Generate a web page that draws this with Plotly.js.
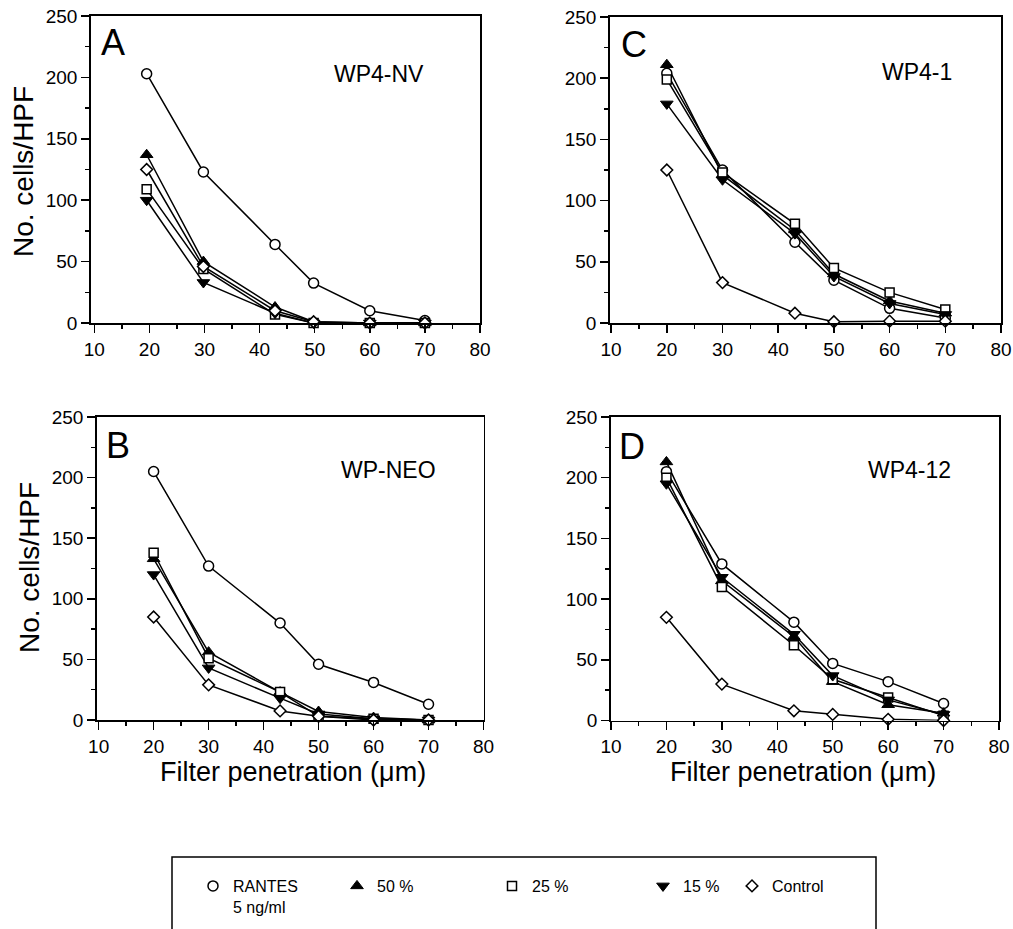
<!DOCTYPE html>
<html>
<head>
<meta charset="utf-8">
<script src="https://cdn.plot.ly/plotly-3.0.1.min.js"></script>
<style>html,body{margin:0;padding:0;background:#fff;}#chart{width:1013px;height:929px;}</style>
</head>
<body>
<div id="chart"></div>
<script>
// ---------- data ----------
const seriesNames = ["RANTES<br>5 ng/ml", "50 %", "25 %", "15 %", "Control"];
const xTicks = [10, 20, 30, 40, 50, 60, 70, 80];
const yTicks = [0, 50, 100, 150, 200, 250];

// Panel A  WP4-NV
const xA = [19.5, 29.8, 42.8, 49.8, 60, 70];
const A_rantes  = [203, 123, 64, 32.5, 10, 2];
const A_p50     = [137, 50, 13, 1, 0, 0];
const A_p25     = [109, 44, 7, 0, 0, 0];
const A_p15     = [100, 33, 8, 0, 0, 0];
const A_control = [125, 46, 10, 1, 0, 0];

// Panel C  WP4-1
const xC = [20, 30, 43, 50, 60, 70];
const C_rantes  = [204, 125, 66, 35, 12, 4];
const C_p50     = [211, 121, 76, 40, 18, 8];
const C_p25     = [199, 123, 81, 45, 25, 11];
const C_p15     = [179, 117, 73, 38, 16, 7];
const C_control = [125, 33, 8, 1, 1.5, 1.5];

// Panel B  WP-NEO
const xB = [20, 30, 43, 50, 60, 70];
const B_rantes  = [205, 127, 80, 46, 31, 13];
const B_p50     = [133, 56, 23, 7, 2, 0];
const B_p25     = [138, 51, 23, 3, 1, 0];
const B_p15     = [120, 43, 18, 5, 1, 0];
const B_control = [85, 29, 7.5, 3, 0, 0];

// Panel D  WP4-12
const xD = [20, 30, 43, 50, 60, 70];
const D_rantes  = [205, 129, 81, 47, 32, 14];
const D_p50     = [213, 115, 69, 32, 13, 6];
const D_p25     = [200, 110, 62, 34, 19, 4];
const D_p15     = [195, 118, 71, 37, 17, 5];
const D_control = [85, 30, 8, 5, 1, 0];

const panelLetters = ["A", "C", "B", "D"];
const panelLabels = ["WP4-NV", "WP4-1", "WP-NEO", "WP4-12"];

// ---------- helpers ----------
const W = 1013, H = 929;
const px = x => x / W;
const py = y => 1 - y / H;
const FONT = "Liberation Sans, Arial, Helvetica, sans-serif";

const markerStyles = [
  {symbol: "circle", size: 10, color: "#fff", line: {color: "#000", width: 1.5}},
  {symbol: "triangle-up", size: 11, color: "#000", line: {color: "#000", width: 1}},
  {symbol: "square", size: 9, color: "#fff", line: {color: "#000", width: 1.5}},
  {symbol: "triangle-down", size: 11, color: "#000", line: {color: "#000", width: 1}},
  {symbol: "diamond", size: 9, color: "#fff", line: {color: "#000", width: 1.5}}
];
const legendIds = ["legend", "legend2", "legend3", "legend4", "legend5"];

const panels = [
  {x: xA, ys: [A_rantes, A_p50, A_p25, A_p15, A_control], xa: "x",  ya: "y",  legend: true},
  {x: xC, ys: [C_rantes, C_p50, C_p25, C_p15, C_control], xa: "x2", ya: "y2", legend: false},
  {x: xB, ys: [B_rantes, B_p50, B_p25, B_p15, B_control], xa: "x3", ya: "y3", legend: false},
  {x: xD, ys: [D_rantes, D_p50, D_p25, D_p15, D_control], xa: "x4", ya: "y4", legend: false}
];

const lineTraces = [], markerTraces = [];
panels.forEach(p => {
  p.ys.forEach((y, i) => {
    lineTraces.push({
      type: "scatter", mode: "lines",
      x: p.x, y: y, xaxis: p.xa, yaxis: p.ya,
      name: seriesNames[i], showlegend: false,
      cliponaxis: false,
      line: {color: "#000", width: 1.5},
      hoverinfo: "skip"
    });
    markerTraces.push({
      type: "scatter", mode: "markers",
      x: p.x, y: y, xaxis: p.xa, yaxis: p.ya,
      name: seriesNames[i],
      showlegend: p.legend,
      legend: legendIds[i],
      cliponaxis: false,
      marker: markerStyles[i]
    });
  });
});
const traces = lineTraces.concat(markerTraces);

function xAxis(domain, range, anchor) {
  return {
    domain: domain, range: range, anchor: anchor,
    tickmode: "array", tickvals: xTicks, ticktext: xTicks.map(String),
    ticks: "outside", ticklen: 8, tickwidth: 1.5, tickcolor: "#000",
    minor: {dtick: 5, tick0: 10, ticks: "outside", ticklen: 4, tickwidth: 1.5, tickcolor: "#000", showgrid: false},
    showline: true, linewidth: 1.8, linecolor: "#000", mirror: true,
    showgrid: false, zeroline: false, automargin: false,
    tickfont: {family: FONT, size: 19, color: "#000"}
  };
}
function yAxis(domain, anchor) {
  return {
    domain: domain, range: [0, 250], anchor: anchor,
    tickmode: "array", tickvals: yTicks, ticktext: yTicks.map(String),
    ticks: "outside", ticklen: 8, tickwidth: 1.5, tickcolor: "#000",
    minor: {dtick: 25, tick0: 0, ticks: "outside", ticklen: 4, tickwidth: 1.5, tickcolor: "#000", showgrid: false},
    showline: true, linewidth: 1.8, linecolor: "#000", mirror: true,
    showgrid: false, zeroline: false, automargin: false,
    tickfont: {family: FONT, size: 19, color: "#000"}
  };
}

const legendMarkerX = [213, 357, 512, 663, 752];
const legends = {};
legendIds.forEach((id, i) => {
  legends[id] = {
    x: px(legendMarkerX[i] - 20), y: py(869), xanchor: "left", yanchor: "top",
    bgcolor: "rgba(0,0,0,0)", borderwidth: 0, valign: "top",
    font: {family: FONT, size: 16, color: "#000"},
    itemclick: false, itemdoubleclick: false
  };
});

const annotations = [];
const letterPos = [[113, 42], [634, 44], [118, 445], [632, 446]];
const labelPos = [[379, 74], [917, 72], [388, 470], [909, 470]];
panelLetters.forEach((t, i) => {
  annotations.push({text: t, xref: "paper", yref: "paper", x: px(letterPos[i][0]), y: py(letterPos[i][1]),
    xanchor: "center", yanchor: "middle", showarrow: false, font: {family: FONT, size: 36, color: "#000"}});
});
panelLabels.forEach((t, i) => {
  annotations.push({text: t, xref: "paper", yref: "paper", x: px(labelPos[i][0]), y: py(labelPos[i][1]),
    xanchor: "center", yanchor: "middle", showarrow: false, font: {family: FONT, size: 23, color: "#000"}});
});
// axis titles
[[23, 172], [29, 568]].forEach(p => {
  annotations.push({text: "No. cells/HPF", xref: "paper", yref: "paper", x: px(p[0]), y: py(p[1]),
    xanchor: "center", yanchor: "middle", textangle: -90, showarrow: false,
    font: {family: FONT, size: 28, color: "#000"}});
});
[[293, 772], [803, 772]].forEach(p => {
  annotations.push({text: "Filter penetration (\u03bcm)", xref: "paper", yref: "paper", x: px(p[0]), y: py(p[1]),
    xanchor: "center", yanchor: "middle", showarrow: false,
    font: {family: FONT, size: 27, color: "#000"}});
});

const layout = Object.assign({
  width: W, height: H,
  margin: {l: 0, r: 0, t: 0, b: 0},
  paper_bgcolor: "#fff", plot_bgcolor: "#fff",
  font: {family: FONT, color: "#000"},
  xaxis:  xAxis([px(91), px(480)], [9.4, 80], "y"),
  yaxis:  yAxis([py(323), py(16)], "x"),
  xaxis2: xAxis([px(610), px(1001)], [9.8, 80], "y2"),
  yaxis2: yAxis([py(323), py(17)], "x2"),
  xaxis3: xAxis([px(97), px(483.5)], [9.7, 80], "y3"),
  yaxis3: yAxis([py(720), py(417)], "x3"),
  xaxis4: xAxis([px(611), px(999)], [10, 80], "y4"),
  yaxis4: yAxis([py(720.5), py(417)], "x4"),
  annotations: annotations,
  shapes: [{type: "rect", xref: "paper", yref: "paper", x0: px(172), x1: px(876), y0: py(857), y1: py(940),
    line: {color: "#000", width: 1.5}, fillcolor: "rgba(0,0,0,0)"}]
}, legends);

Plotly.newPlot("chart", traces, layout, {displayModeBar: false, staticPlot: true});
</script>
</body>
</html>
